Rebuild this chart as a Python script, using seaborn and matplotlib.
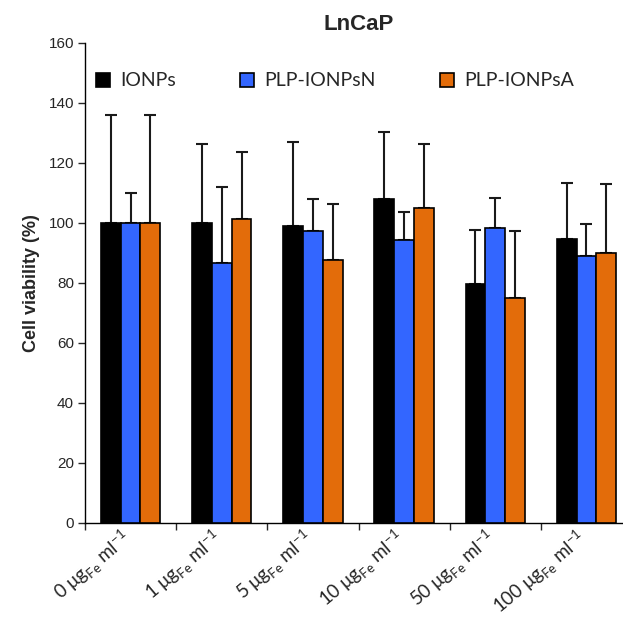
import matplotlib
matplotlib.use("Agg")
import matplotlib.pyplot as plt
import matplotlib.transforms as mtransforms
import pandas as pd
import seaborn as sns

# ===========
# DATA
# ===========

doses = ["0", "1", "5", "10", "50", "100"]
series = ["IONPs", "PLP-IONPsN", "PLP-IONPsA"]

ionps = [100, 100, 98.9, 108, 79.6, 94.8]
ionps_sd = [36, 26.2, 28.2, 22.2, 18.1, 18.7]
plp_n = [100, 86.6, 97.2, 94.2, 98.3, 89.1]
plp_n_sd = [10, 25.4, 10.8, 9.6, 10.1, 10.7]
plp_a = [100, 101.3, 87.6, 104.9, 74.9, 90.1]
plp_a_sd = [36, 22.5, 18.7, 21.4, 22.3, 23.0]

colors = ["#000000", "#3366FF", "#E36C0A"]

tick_labels = [d + r" μg$_\mathregular{Fe}$ ml$^\mathregular{-1}$" for d in doses]

df = pd.DataFrame({
    "dose": doses * 3,
    "group": [s for s in series for _ in doses],
    "value": ionps + plp_n + plp_a,
})
sds = [ionps_sd, plp_n_sd, plp_a_sd]

# ===========
# PLOT
# ===========

sns.set_style("white")
plt.rcParams["font.family"] = ["Liberation Sans", "DejaVu Sans"]

fig = plt.figure(figsize=(6.23, 6.19), dpi=100)
ax = fig.add_axes([85 / 623, 96 / 619, 547 / 623, 480 / 619])

sns.barplot(data=df, x="dose", y="value", hue="group", order=doses,
            hue_order=series, palette=colors, width=0.65, gap=0,
            errorbar=None, edgecolor="black", linewidth=1.2,
            saturation=1, ax=ax, zorder=3)

# upper-only error bars
for cont, sd in zip(ax.containers, sds):
    for bar, s in zip(cont, sd):
        xc = bar.get_x() + bar.get_width() / 2
        h = bar.get_height()
        ax.errorbar(xc, h, yerr=[[0], [s]], fmt="none", ecolor="#1a1a1a",
                    elinewidth=1.5, capsize=4, capthick=1.5, zorder=2)

ax.set_xlim(-0.5, 5.5)
ax.set_ylim(0, 160)
ax.set_yticks(range(0, 161, 20))
ax.tick_params(axis="y", direction="out", length=5, width=1, labelsize=11,
               left=True, pad=3)

ax.set_xticks([i + 0.5 for i in range(-1, 6)], minor=True)
ax.set_xticks(range(len(doses)))
ax.set_xticklabels(tick_labels, rotation=40, ha="right",
                   rotation_mode="anchor", fontsize=13.5,
                   family=["Lato", "DejaVu Sans"])
ax.tick_params(axis="x", which="major", length=0, pad=7)
ax.tick_params(axis="x", which="minor", direction="out", length=5,
               width=1, bottom=True)
shift = mtransforms.ScaledTranslation(-11 / 100, 7 / 100, fig.dpi_scale_trans)
for lbl in ax.get_xticklabels():
    lbl.set_transform(lbl.get_transform() + shift)

for side in ["top", "right"]:
    ax.spines[side].set_visible(False)
for side in ["left", "bottom"]:
    ax.spines[side].set_color("black")
    ax.spines[side].set_linewidth(1)

ax.set_xlabel("")
ax.set_ylabel("Cell viability (%)", fontsize=13, fontweight="bold", labelpad=6)
ax.set_title("LnCaP", fontsize=16, fontweight="bold", pad=9)

handles, labels = ax.get_legend_handles_labels()
ax.legend(handles, labels, ncol=3, frameon=False, loc="center left",
          bbox_to_anchor=(0.005, 0.921), prop={"family": "Lato", "size": 14},
          handlelength=0.75, handleheight=0.75, handletextpad=0.5,
          columnspacing=3.3, borderaxespad=0)

fig.savefig("out.png", dpi=100)
